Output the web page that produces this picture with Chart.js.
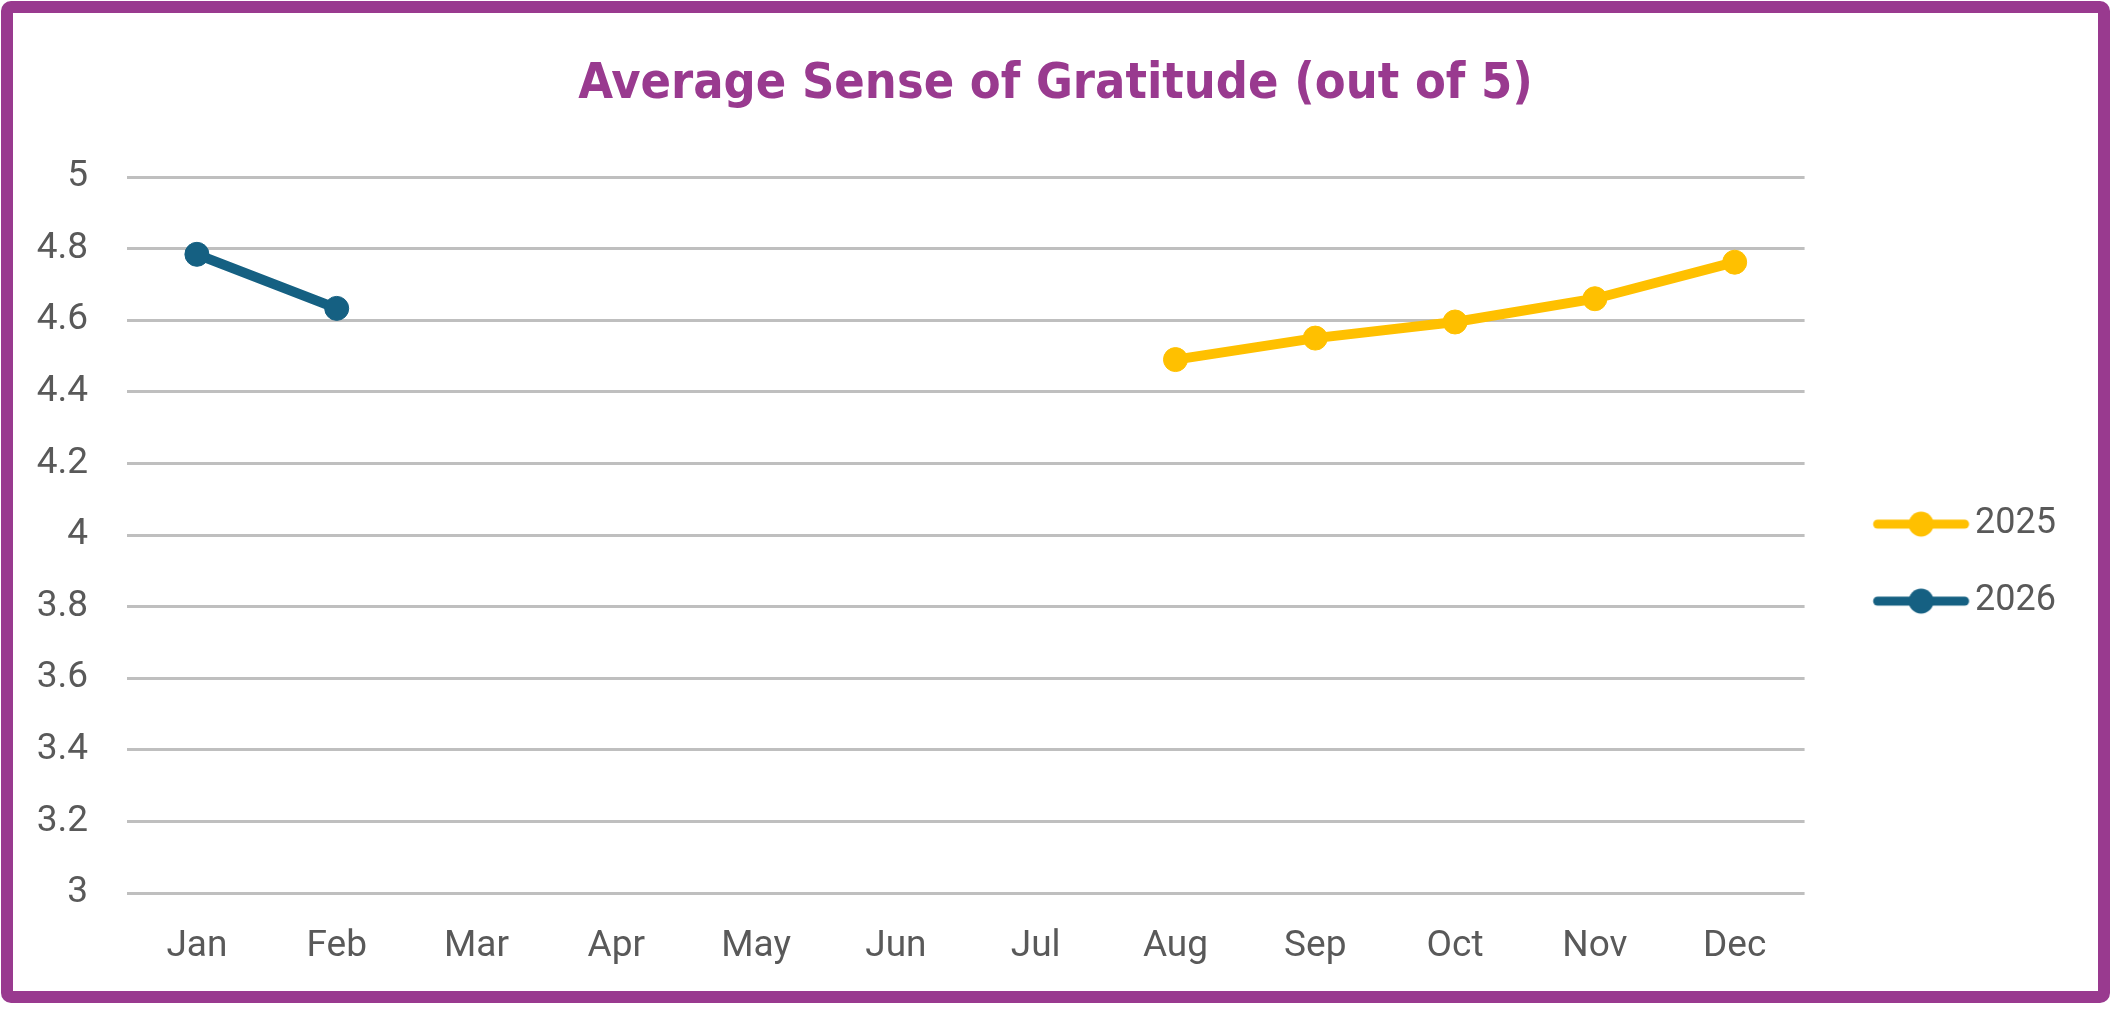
<!DOCTYPE html>
<html>
<head>
<meta charset="utf-8">
<script src="https://cdn.jsdelivr.net/npm/chart.js@4"></script>
<style>
  html, body { margin: 0; padding: 0; background: #fff; }
  #frame {
    position: absolute; left: 1px; top: 1px;
    width: 2085px; height: 978px;
    border: 12px solid #993A8F; border-radius: 10px;
    background: #fff;
  }
  #chart { display: block; }
</style>
</head>
<body>
<div id="frame"><canvas id="chart" width="2085" height="978"></canvas></div>
<script>
  // chart data
  var months = ["Jan", "Feb", "Mar", "Apr", "May", "Jun", "Jul", "Aug", "Sep", "Oct", "Nov", "Dec"];
  var values2025 = [null, null, null, null, null, null, null, 4.49, 4.55, 4.595, 4.66, 4.762];
  var values2026 = [4.784, 4.633, null, null, null, null, null, null, null, null, null, null];
  var seriesNames = ["2025", "2026"];
  var seriesColors = ["#FFC000", "#156082"];
  var titleText = "Average Sense of Gratitude (out of 5)";

  var purple = "#993A8F";
  var grey = "#595959";
  var tickFont = "Roboto, 'Noto Sans', sans-serif";

  // legend marker: a short line with a dot in the middle.
  // the image is wider than the line so the line sits a bit right of centre
  function legendSwatch(color) {
    var c = document.createElement("canvas");
    c.width = 140; c.height = 30;
    var g = c.getContext("2d");
    var mid = 89.75;
    g.strokeStyle = color;
    g.fillStyle = color;
    g.lineWidth = 9;
    g.lineCap = "round";
    g.beginPath();
    g.moveTo(mid - 43.5, 15); g.lineTo(mid + 43.5, 15);
    g.stroke();
    g.beginPath();
    g.arc(mid, 15, 12.5, 0, Math.PI * 2);
    g.fill();
    return c;
  }

  function makeSet(i, data) {
    return {
      label: seriesNames[i],
      data: data,
      borderColor: seriesColors[i],
      backgroundColor: seriesColors[i],
      borderWidth: 10,
      borderCapStyle: "round",
      pointStyle: "circle",
      pointRadius: 12,
      pointBorderWidth: 1,
      pointBackgroundColor: seriesColors[i],
      spanGaps: false
    };
  }

  var swatches = seriesColors.map(legendSwatch);

  // title spans the whole canvas, not just the part left of the padding
  var centreTitle = {
    id: "centreTitle",
    afterLayout: function (chart) {
      var t = chart.titleBlock;
      if (t) { t.left = 0; t.right = chart.width; }
    }
  };

  new Chart(document.getElementById("chart"), {
    type: "line",
    data: { labels: months, datasets: [makeSet(0, values2025), makeSet(1, values2026)] },
    plugins: [centreTitle],
    options: {
      responsive: false,
      animation: false,
      devicePixelRatio: 1,
      layout: { padding: { left: 0, right: 32, top: 0, bottom: 0 } },
      plugins: {
        title: {
          display: true,
          text: titleText,
          color: purple,
          font: { family: "'Liberation Sans Narrow', 'DejaVu Sans Condensed', Roboto, sans-serif", size: 50, weight: "bold" },
          padding: { top: 42, bottom: 62 }
        },
        legend: {
          position: "right",
          title: { display: true, text: " ", color: "rgba(0,0,0,0)", font: { size: 1 }, padding: { top: 120, bottom: 0 } },
          labels: {
            color: grey,
            font: { family: tickFont, size: 36 },
            usePointStyle: true,
            pointStyleWidth: 111.5,
            padding: 41,
            generateLabels: function (chart) {
              return chart.data.datasets.map(function (d, i) {
                return {
                  text: d.label,
                  pointStyle: swatches[i],
                  fillStyle: d.borderColor,
                  strokeStyle: d.borderColor,
                  fontColor: grey,
                  lineWidth: 0,
                  datasetIndex: i,
                  hidden: false
                };
              });
            }
          }
        },
        tooltip: { enabled: false }
      },
      scales: {
        x: {
          offset: true,
          grid: { display: false, drawTicks: false },
          border: { display: false },
          ticks: { color: grey, font: { family: tickFont, size: 37 }, padding: 32, maxRotation: 0 },
          afterFit: function (s) { s.height = 98; }
        },
        y: {
          min: 3,
          max: 5,
          ticks: {
            stepSize: 0.2,
            color: grey,
            font: { family: tickFont, size: 37 },
            padding: 39,
            callback: function (v) { return Math.round(v * 10) / 10; }
          },
          grid: { color: "#BFBFBF", lineWidth: 3, drawTicks: false },
          border: { display: false },
          afterFit: function (s) { s.width = 114; }
        }
      }
    }
  });
</script>
</body>
</html>
